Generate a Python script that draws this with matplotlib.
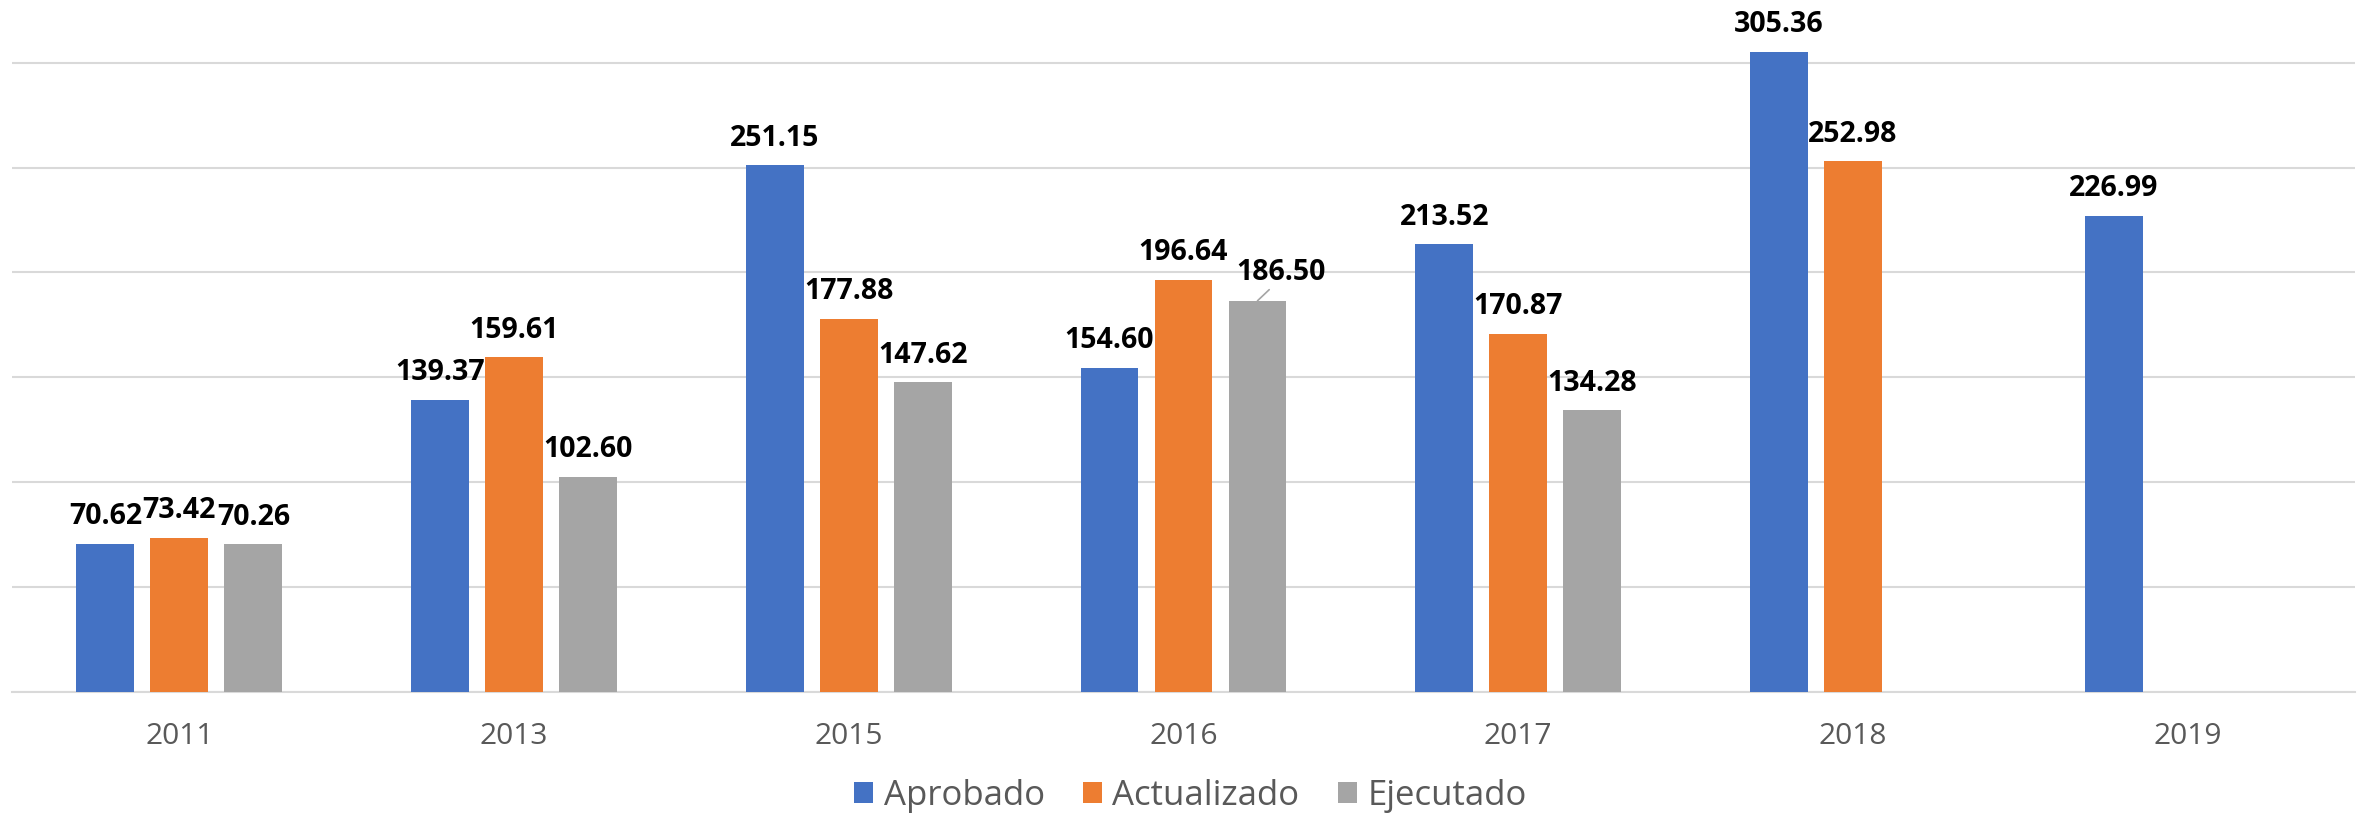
import numpy as np
import matplotlib.pyplot as plt

years = ['2011', '2013', '2015', '2016', '2017', '2018', '2019']
aprobado = [70.62, 139.37, 251.15, 154.60, 213.52, 305.36, 226.99]
actualizado = [73.42, 159.61, 177.88, 196.64, 170.87, 252.98, np.nan]
ejecutado = [70.26, 102.60, 147.62, 186.50, 134.28, np.nan, np.nan]

series = [('Aprobado', aprobado, '#4472C4'),
          ('Actualizado', actualizado, '#ED7D31'),
          ('Ejecutado', ejecutado, '#A5A5A5')]

plt.rcParams['font.family'] = ['Open Sans', 'DejaVu Sans']

fig = plt.figure(figsize=(23.57, 8.18), dpi=100)
ax = fig.add_axes([12 / 2357, 126.3 / 818, 2343 / 2357, 691.7 / 818])

x = np.arange(len(years))
step = 0.221
width = 0.173

for k, (name, vals, col) in enumerate(series):
    pos = x + (k - 1) * step
    ax.bar(pos, vals, width, color=col, label=name, zorder=3)
    for p, v in zip(pos, vals):
        if np.isnan(v):
            continue
        if name == 'Ejecutado' and v == 186.50:
            # label moved off the bar, with a leader line
            ax.annotate(f'{v:.2f}', xy=(p, v), xytext=(17, 10),
                        textcoords='offset points', ha='center', va='bottom',
                        fontsize=20.5, fontweight='bold', color='black',
                        arrowprops=dict(arrowstyle='-', color='#A5A5A5', lw=1.2,
                                        shrinkA=0, shrinkB=0,
                                        relpos=(0.4, 0.0)))
        else:
            ax.annotate(f'{v:.2f}', xy=(p, v), xytext=(0, 9),
                        textcoords='offset points', ha='center', va='bottom',
                        fontsize=20.5, fontweight='bold', color='black')

ax.set_xlim(-0.5, len(years) - 0.5)
ax.set_ylim(0, 330)
ax.set_yticks(np.arange(0, 301, 50))
ax.yaxis.grid(True, color='#D9D9D9', linewidth=1.5, zorder=0)
ax.tick_params(axis='y', left=False, labelleft=False)
ax.set_xticks(x)
ax.set_xticklabels(years, fontsize=21.5, color='#595959')
ax.tick_params(axis='x', length=0, pad=22)
for s in ['top', 'right', 'left']:
    ax.spines[s].set_visible(False)
ax.spines['bottom'].set_color('#D9D9D9')
ax.spines['bottom'].set_linewidth(1.5)

fig.legend(loc='center', bbox_to_anchor=(0.505, 0.027), ncol=3, frameon=False,
           fontsize=25, labelcolor='#595959', handlelength=0.55, handleheight=0.55,
           handletextpad=0.3, columnspacing=1.1)

fig.savefig('out.png', dpi=100)
